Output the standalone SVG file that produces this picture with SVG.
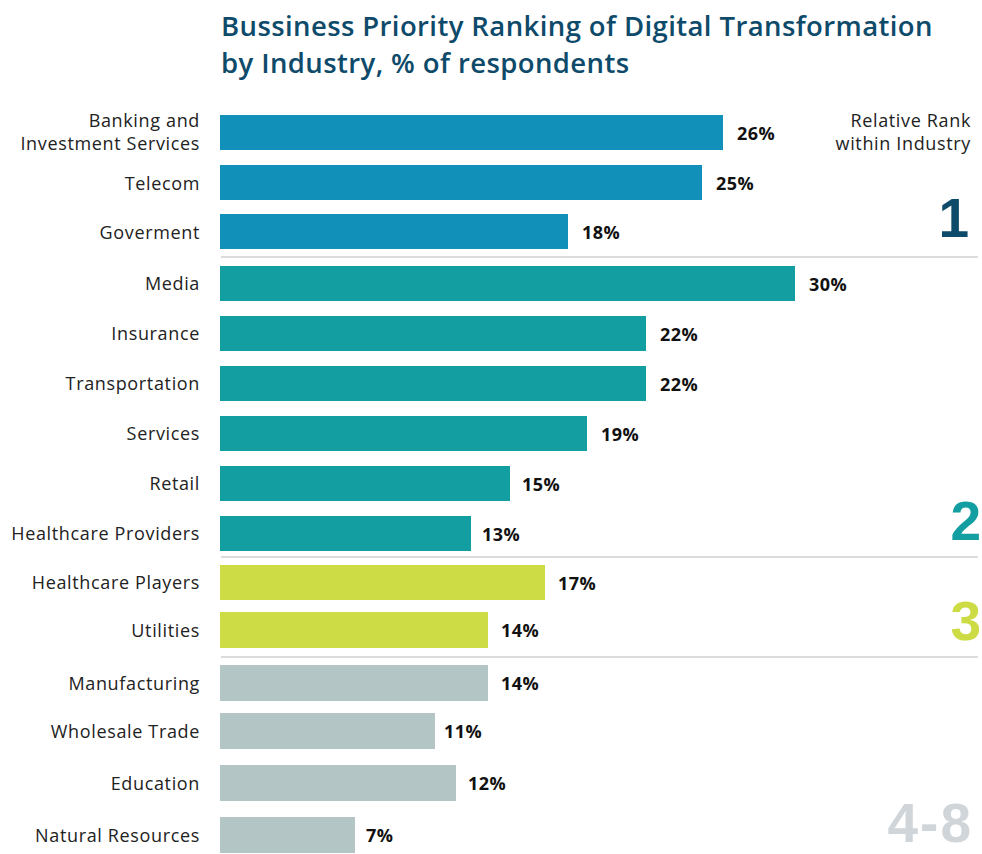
<svg xmlns="http://www.w3.org/2000/svg" width="982" height="854" viewBox="0 0 982 854">
<style>
.title{font-family:"Open Sans","Liberation Sans",sans-serif;font-weight:600;font-size:27.5px;letter-spacing:0.4px;fill:#0e4a6a}
.cat{font-family:"Open Sans","Liberation Sans",sans-serif;font-size:18px;letter-spacing:0.65px;fill:#222;text-anchor:end}
.val{font-family:"Open Sans","Liberation Sans",sans-serif;font-weight:700;font-size:18px;letter-spacing:0.4px;fill:#111}
.rank{font-family:"Liberation Sans","Open Sans",sans-serif;font-weight:700;font-size:55px;text-anchor:end}
.b1{fill:#1190b9}.b2{fill:#139ea1}.b3{fill:#cddb45}.b4{fill:#b4c5c5}
.sep{stroke:#dcdcdc;stroke-width:2}
</style>
<rect width="982" height="854" fill="#ffffff"/>
<g id="title">
<text class="title" x="221" y="36">Bussiness Priority Ranking of Digital Transformation</text>
<text class="title" x="221" y="73">by Industry, % of respondents</text>
</g>
<g id="legend">
<text class="cat" x="971" y="127">Relative Rank</text>
<text class="cat" x="971" y="150">within Industry</text>
<text class="rank" x="969" y="237" fill="#0e4a6a">1</text>
<text class="rank" x="981" y="540" fill="#139ea1">2</text>
<text class="rank" x="981" y="640" fill="#cddb45">3</text>
<text class="rank" x="973" y="842" fill="#d0d5d9" letter-spacing="2">4-8</text>
</g>
<g id="separators">
<line class="sep" x1="221" y1="257" x2="978" y2="257"/>
<line class="sep" x1="221" y1="557" x2="978" y2="557"/>
<line class="sep" x1="221" y1="657" x2="978" y2="657"/>
</g>
<g id="bar-banking"><text class="cat" x="200" y="127">Banking and</text><text class="cat" x="200" y="150">Investment Services</text><rect class="b1" x="220" y="115" width="503" height="35"/><text class="val" x="737" y="140">26%</text></g>
<g id="bar-telecom"><text class="cat" x="200" y="190">Telecom</text><rect class="b1" x="220" y="165" width="482" height="35"/><text class="val" x="716" y="190">25%</text></g>
<g id="bar-government"><text class="cat" x="200" y="239">Goverment</text><rect class="b1" x="220" y="214" width="348" height="35"/><text class="val" x="582" y="239">18%</text></g>
<g id="bar-media"><text class="cat" x="200" y="290">Media</text><rect class="b2" x="220" y="266" width="575" height="35"/><text class="val" x="809" y="291">30%</text></g>
<g id="bar-insurance"><text class="cat" x="200" y="340">Insurance</text><rect class="b2" x="220" y="316" width="426" height="35"/><text class="val" x="660" y="341">22%</text></g>
<g id="bar-transportation"><text class="cat" x="200" y="390">Transportation</text><rect class="b2" x="220" y="366" width="426" height="35"/><text class="val" x="660" y="391">22%</text></g>
<g id="bar-services"><text class="cat" x="200" y="440">Services</text><rect class="b2" x="220" y="416" width="367" height="35"/><text class="val" x="601" y="441">19%</text></g>
<g id="bar-retail"><text class="cat" x="200" y="490">Retail</text><rect class="b2" x="220" y="466" width="290" height="35"/><text class="val" x="522" y="491">15%</text></g>
<g id="bar-healthcare-providers"><text class="cat" x="200" y="540">Healthcare Providers</text><rect class="b2" x="220" y="516" width="251" height="35"/><text class="val" x="482" y="541">13%</text></g>
<g id="bar-healthcare-players"><text class="cat" x="200" y="589">Healthcare Players</text><rect class="b3" x="220" y="565" width="325" height="35"/><text class="val" x="558" y="590">17%</text></g>
<g id="bar-utilities"><text class="cat" x="200" y="637">Utilities</text><rect class="b3" x="220" y="612" width="268" height="36"/><text class="val" x="501" y="637">14%</text></g>
<g id="bar-manufacturing"><text class="cat" x="200" y="690">Manufacturing</text><rect class="b4" x="220" y="665" width="268" height="36"/><text class="val" x="501" y="690">14%</text></g>
<g id="bar-wholesale"><text class="cat" x="200" y="738">Wholesale Trade</text><rect class="b4" x="220" y="713" width="215" height="36"/><text class="val" x="444" y="738">11%</text></g>
<g id="bar-education"><text class="cat" x="200" y="790">Education</text><rect class="b4" x="220" y="765" width="236" height="36"/><text class="val" x="468" y="790">12%</text></g>
<g id="bar-natural"><text class="cat" x="200" y="842">Natural Resources</text><rect class="b4" x="220" y="817" width="135" height="36"/><text class="val" x="366" y="842">7%</text></g>
</svg>
